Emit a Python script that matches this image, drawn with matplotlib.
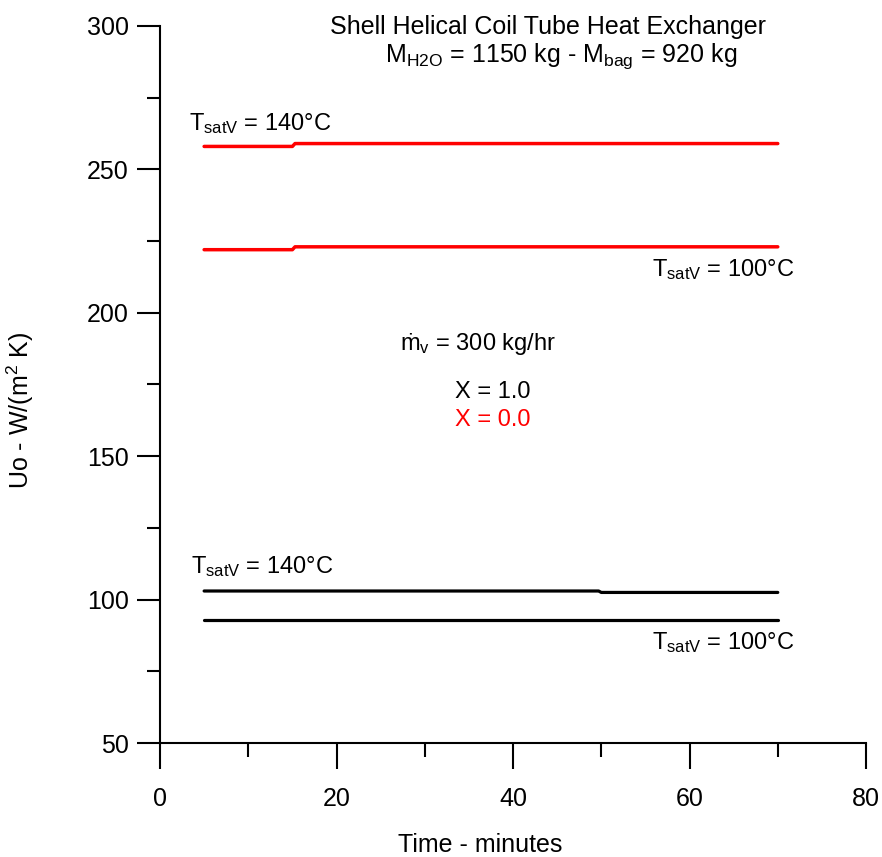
import matplotlib
matplotlib.use("Agg")
import matplotlib.pyplot as plt
from matplotlib.ticker import MultipleLocator

plt.rcParams['font.family'] = ['Liberation Sans', 'DejaVu Sans']
plt.rcParams['mathtext.fontset'] = 'custom'
plt.rcParams['mathtext.rm'] = 'Liberation Sans'
plt.rcParams['mathtext.it'] = 'Liberation Sans'
plt.rcParams['mathtext.default'] = 'regular'

# Datos (tiempo en minutos, Uo en W/(m2 K))
t_x0_140 = [5, 15, 15.3, 70]
u_x0_140 = [258.0, 258.0, 259.0, 259.0]
t_x0_100 = [5, 15, 15.3, 70]
u_x0_100 = [222.0, 222.0, 223.0, 223.0]
t_x1_140 = [5, 49.7, 50, 70]
u_x1_140 = [103.0, 103.0, 102.5, 102.5]
t_x1_100 = [5, 70]
u_x1_100 = [93.0, 93.0]

RED = '#ff0000'
FS = 18

fig = plt.figure(figsize=(8.82, 8.57), dpi=100)
ax = fig.add_axes([0.1814, 0.1330, 0.8005, 0.8367])

ax.plot(t_x0_140, u_x0_140, color=RED, lw=2.5, solid_capstyle='round')
ax.plot(t_x0_100, u_x0_100, color=RED, lw=2.5, solid_capstyle='round')
ax.plot(t_x1_140, u_x1_140, color='black', lw=2.3, solid_capstyle='round')
ax.plot(t_x1_100, u_x1_100, color='black', lw=2.3, solid_capstyle='round')

ax.set_xlim(0, 80)
ax.set_ylim(50, 300)
ax.xaxis.set_major_locator(MultipleLocator(20))
ax.xaxis.set_minor_locator(MultipleLocator(10))
ax.yaxis.set_major_locator(MultipleLocator(50))
ax.yaxis.set_minor_locator(MultipleLocator(25))

for s in ['top', 'right']:
    ax.spines[s].set_visible(False)
for s in ['left', 'bottom']:
    ax.spines[s].set_linewidth(1.5)

ax.tick_params(axis='x', which='major', direction='out', length=18.5, width=1.5, pad=13, labelsize=FS)
ax.tick_params(axis='x', which='minor', direction='out', length=10, width=1.5)
ax.tick_params(axis='y', which='major', direction='out', length=16.5, width=1.5, pad=6, labelsize=FS)
ax.tick_params(axis='y', which='minor', direction='out', length=9.4, width=1.5)

ax.set_xlabel('Time - minutes', fontsize=FS)
ax.xaxis.set_label_coords(0.453, -0.125)
ax.set_ylabel('Uo - W/(m$^2$ K)', fontsize=FS)
ax.yaxis.set_label_coords(-0.176, 0.464)

ax.text(44, 299.6, 'Shell Helical Coil Tube Heat Exchanger', fontsize=FS,
        ha='center', va='center')
ax.text(45.5, 289.5, 'M$_{H2O}$ = 1150 kg - M$_{bag}$ = 920 kg', fontsize=FS,
        ha='center', va='center')

ax.text(3.3, 266, 'T$_{satV}$ = 140°C', fontsize=17, ha='left', va='center')
ax.text(55.7, 215, 'T$_{satV}$ = 100°C', fontsize=17, ha='left', va='center')
ax.text(27.2, 189, 'ṁ$_{v}$ = 300 kg/hr', fontsize=17, ha='left', va='center')
ax.text(33.4, 172.4, 'X = 1.0', fontsize=17, ha='left', va='center')
ax.text(33.4, 162.6, 'X = 0.0', fontsize=17, ha='left', va='center', color=RED)
ax.text(3.5, 111.7, 'T$_{satV}$ = 140°C', fontsize=17, ha='left', va='center')
ax.text(55.7, 85, 'T$_{satV}$ = 100°C', fontsize=17, ha='left', va='center')

fig.savefig('out.png', dpi=100)
plt.close(fig)
